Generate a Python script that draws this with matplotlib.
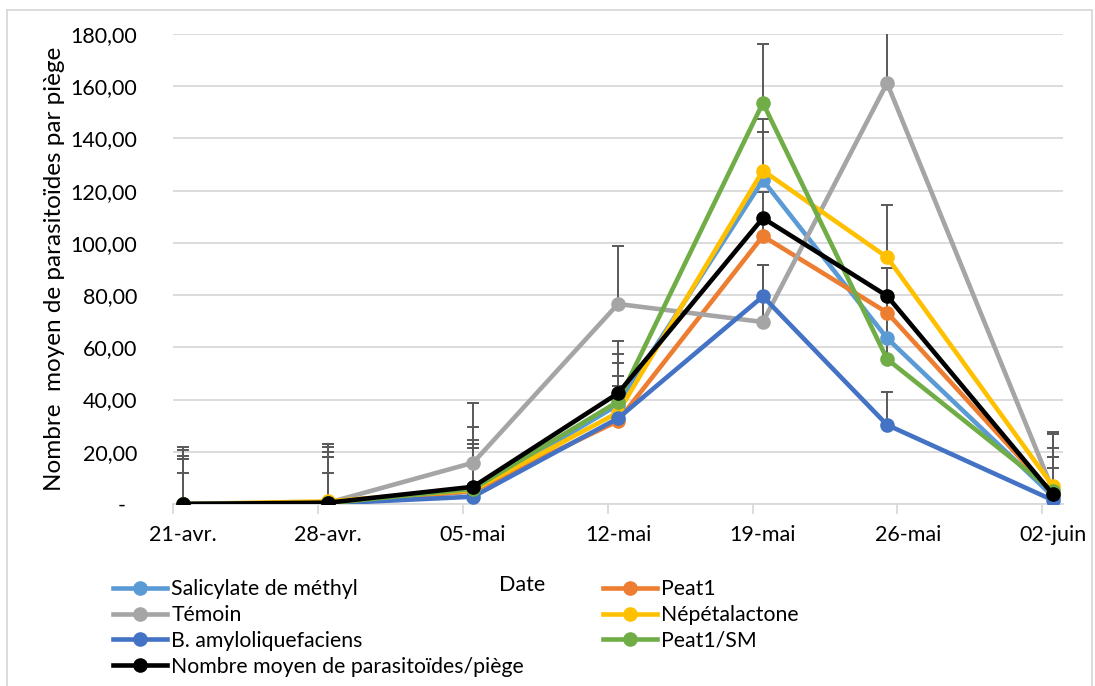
import numpy as np
import matplotlib
matplotlib.use("Agg")
import matplotlib.pyplot as plt
from matplotlib.lines import Line2D

plt.rcParams['font.family'] = ['Lato', 'DejaVu Sans']

# sampling dates (the 26-mai point was taken on the 25th)
dates = np.array(['2021-04-21', '2021-04-28', '2021-05-05', '2021-05-12',
                  '2021-05-19', '2021-05-25', '2021-06-02'], dtype='datetime64[D]')
tick_labels = ['21-avr.', '28-avr.', '05-mai', '12-mai', '19-mai', '26-mai', '02-juin']
ytick_labels = ['-  ', '20,00', '40,00', '60,00', '80,00', '100,00', '120,00',
                '140,00', '160,00', '180,00']

names = ['Salicylate de méthyl', 'Peat1', 'Témoin', 'Népétalactone',
         'B. amyloliquefaciens', 'Peat1/SM', 'Nombre moyen de parasitoïdes/piège']
colors = ['#5B9BD5', '#ED7D31', '#A5A5A5', '#FFC000', '#4472C4', '#70AD47', '#000000']

salicylate = [0, 0.6, 4.8, 38.0, 124.0, 63.5, 3.0]
peat1 = [0, 0.4, 5.0, 31.8, 102.6, 73.3, 4.0]
temoin = [0, 0.5, 15.8, 76.6, 69.7, 161.2, 5.5]
nepetalactone = [0, 1.0, 5.4, 35.0, 127.7, 94.5, 7.0]
b_amylo = [0, 0.2, 2.8, 32.8, 79.5, 30.3, 1.5]
peat1_sm = [0, 0.3, 5.8, 39.2, 153.6, 55.5, 5.0]
moyenne = [0, 0.5, 6.6, 42.4, 109.5, 79.7, 3.8]

# upper ends of the error bars
top_salicylate = [20.7, 20.0, 24.5, 57.4, 142.5, 90.3, 21.5]
top_peat1 = [17.1, 18.1, 21.6, 49.0, 119.4, 90.3, 18.0]
top_temoin = [21.9, 22.9, 38.8, 99.0, 91.7, 205.0, 27.5]
top_nepetalactone = [18.4, 21.9, 29.6, 53.9, 147.6, 114.5, 26.7]
top_b_amylo = [11.8, 11.8, 23.0, 45.2, 91.7, 42.8, 18.0]
top_peat1_sm = [17.1, 18.1, 23.0, 62.6, 176.2, 90.3, 13.9]

series = [salicylate, peat1, temoin, nepetalactone, b_amylo, peat1_sm, moyenne]
tops = [top_salicylate, top_peat1, top_temoin, top_nepetalactone, top_b_amylo, top_peat1_sm, None]

W, H = 1095, 686
fig = plt.figure(figsize=(W / 100, H / 100), dpi=100)
ax = fig.add_axes([173 / W, 1 - 504 / H, (1063 - 173) / W, (504 - 34) / H])

day = (dates - dates[0]).astype(int) + 0.5

for vals, top, col in zip(series, tops, colors):
    vals = np.array(vals)
    if top is not None:
        err = np.array(top) - vals
        ax.errorbar(day, vals, yerr=[np.zeros_like(vals), err], fmt='none',
                    ecolor='#595959', elinewidth=1.4, capsize=4.5, capthick=1.4, zorder=2)
for vals, col, name in zip(series, colors, names):
    ax.plot(day, vals, color=col, lw=3.3, marker='o', ms=9.5, zorder=3,
            solid_capstyle='round', label=name)

ax.set_xlim(0, 43)
ax.set_ylim(0, 180)
ax.set_yticks(np.arange(0, 181, 20))
ax.set_yticklabels(ytick_labels)
ax.set_xticks(np.arange(0, 43, 7) + 0.5)
ax.set_xticklabels(tick_labels)
ax.set_xticks(np.arange(0, 43, 7), minor=True)
ax.tick_params(axis='x', which='major', length=0, pad=15, labelsize=15.5)
ax.tick_params(axis='x', which='minor', length=7, width=1.3, color='#D9D9D9', direction='out')
ax.tick_params(axis='y', length=0, pad=26, labelsize=15.5)

ax.grid(axis='y', color='#D9D9D9', lw=1.3, zorder=0)
ax.set_axisbelow(True)
for s in ['left', 'right', 'top']:
    ax.spines[s].set_visible(False)
ax.spines['bottom'].set_color('#D9D9D9')
ax.spines['bottom'].set_linewidth(1.3)

ax.set_ylabel('Nombre  moyen de parasitoïdes par piège', fontsize=17.5, va='center')
ax.yaxis.set_label_coords((55 - 173) / 890, 0.5)
fig.text(522 / W, 1 - 585 / H, 'Date', fontsize=15.5, ha='center', va='center')

handles = [Line2D([], [], color=c, lw=3.3, marker='o', ms=9.5) for c in colors]
left = [0, 2, 4, 6]
right = [1, 3, 5]
kw = dict(frameon=False, borderpad=0, borderaxespad=0, handlelength=2.55,
          handletextpad=0.2, labelspacing=0.28, fontsize=15.3, loc='upper left')
leg1 = fig.legend([handles[i] for i in left], [names[i] for i in left],
                  bbox_to_anchor=(113 / W, 1 - 579 / H), **kw)
leg2 = fig.legend([handles[i] for i in right], [names[i] for i in right],
                  bbox_to_anchor=(603 / W, 1 - 579 / H), **kw)

# chart border
border = dict(color='#D9D9D9', lw=1.3, transform=fig.transFigure)
fig.add_artist(Line2D([7 / W, 7 / W], [0, 1 - 10 / H], **border))
fig.add_artist(Line2D([7 / W, 1092 / W], [1 - 10 / H, 1 - 10 / H], **border))
fig.add_artist(Line2D([1092 / W, 1092 / W], [0, 1 - 10 / H], **border))

fig.savefig('out.png', dpi=100)
